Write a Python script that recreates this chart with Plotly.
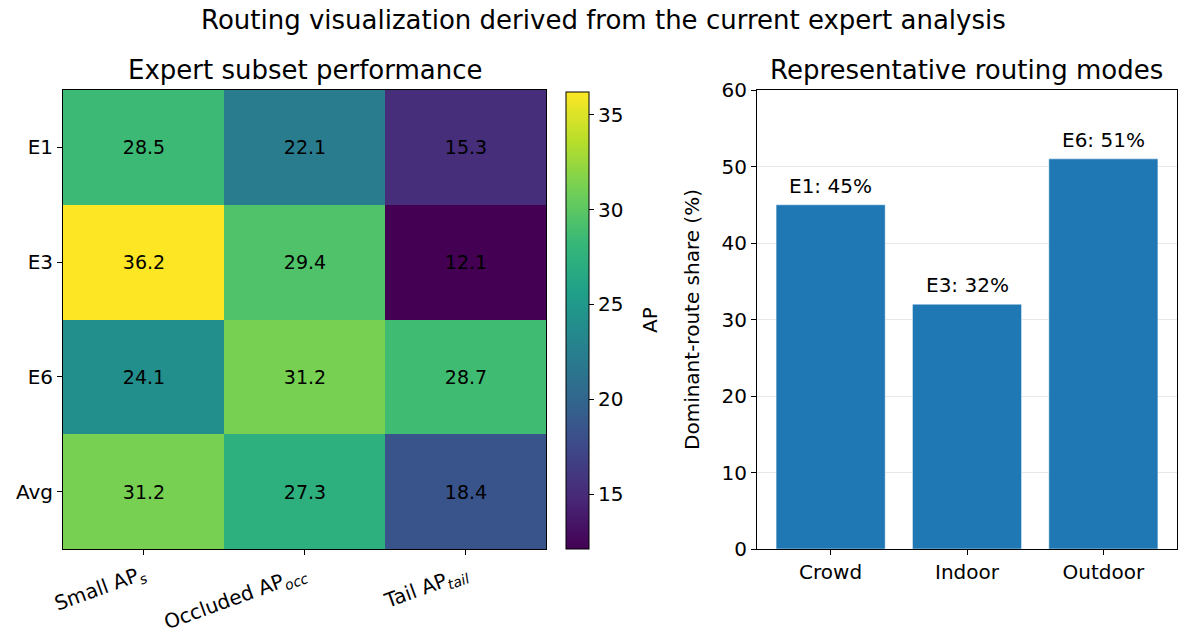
import plotly.graph_objects as go

# Heatmap data
experts = ["E1", "E3", "E6", "Avg"]
subsets = ["Small AP<sub><i>s</i></sub>", "Occluded AP<sub><i>occ</i></sub>", "Tail AP<sub><i>tail</i></sub>"]
ap_small = [28.5, 36.2, 24.1, 31.2]
ap_occluded = [22.1, 29.4, 31.2, 27.3]
ap_tail = [15.3, 12.1, 28.7, 18.4]

# Bar data
modes = ["Crowd", "Indoor", "Outdoor"]
dominant_expert = ["E1", "E3", "E6"]
route_share = [45, 32, 51]

z = [[ap_small[i], ap_occluded[i], ap_tail[i]] for i in range(len(experts))]
zmin = min(min(r) for r in z)
zmax = max(max(r) for r in z)

W, H = 1179, 631
def px(x):
    return x / W
def py(y):
    return 1 - y / H

font = "DejaVu Sans"
TICK = 20
fig = go.Figure()

fig.add_trace(go.Heatmap(
    z=z, x=subsets, y=experts,
    colorscale="Viridis", zmin=zmin, zmax=zmax,
    texttemplate="%{z:.1f}", textfont=dict(size=19, color="black", family=font),
    colorbar=dict(
        x=px(566), xanchor="left", xpad=0, ypad=0,
        y=py(549), yanchor="bottom", len=(549 - 92) / H, lenmode="fraction",
        thickness=23, thicknessmode="pixels",
        outlinecolor="black", outlinewidth=1,
        tickvals=[15, 20, 25, 30, 35], ticks="outside", ticklen=5, tickcolor="black",
        tickfont=dict(size=TICK, family=font, color="black"),
    ),
    xaxis="x", yaxis="y", hoverinfo="skip",
))

fig.add_trace(go.Bar(
    x=modes, y=route_share,
    marker=dict(color="#1f77b4", line=dict(color="rgba(255,255,255,0.6)", width=0.8)),
    width=0.8,
    xaxis="x2", yaxis="y2", hoverinfo="skip",
))

axis_common = dict(
    showline=True, linecolor="black", linewidth=1, mirror=True,
    ticks="outside", ticklen=5, tickcolor="black", automargin=False,
    tickfont=dict(size=TICK, family=font, color="black"),
)

annotations = [
    dict(text="Routing visualization derived from the current expert analysis",
         x=px(603), y=py(20), xref="paper", yref="paper", showarrow=False,
         xanchor="center", yanchor="middle",
         font=dict(size=26, family=font, color="black")),
    dict(text="Expert subset performance",
         x=px(305), y=py(70), xref="paper", yref="paper", showarrow=False,
         xanchor="center", yanchor="middle",
         font=dict(size=26, family=font, color="black")),
    dict(text="Representative routing modes",
         x=px(967), y=py(70), xref="paper", yref="paper", showarrow=False,
         xanchor="center", yanchor="middle",
         font=dict(size=26, family=font, color="black")),
    dict(text="AP", x=px(650), y=py(320), xref="paper", yref="paper", showarrow=False,
         xanchor="center", yanchor="middle", textangle=-90,
         font=dict(size=TICK, family=font, color="black")),
]
for m, e, v in zip(modes, dominant_expert, route_share):
    annotations.append(dict(
        text=f"{e}: {v}%", x=m, y=v, xref="x2", yref="y2", showarrow=False,
        xanchor="center", yanchor="bottom", yshift=5,
        font=dict(size=20, family=font, color="black")))

fig.update_layout(
    width=W, height=H,
    margin=dict(l=0, r=0, t=0, b=0, autoexpand=False),
    paper_bgcolor="white", plot_bgcolor="white",
    showlegend=False,
    font=dict(family=font, color="black"),
    xaxis=dict(domain=[px(63), px(546)], tickangle=-20, showgrid=False, anchor="y", **axis_common),
    yaxis=dict(domain=[py(549), py(90)], autorange="reversed", showgrid=False, anchor="x", **axis_common),
    xaxis2=dict(domain=[px(757), px(1177)], range=[-0.54, 2.54], showgrid=False, anchor="y2", **axis_common),
    yaxis2=dict(domain=[py(549), py(90)], range=[0, 60], dtick=10,
                showgrid=True, gridcolor="rgba(0,0,0,0.09)", gridwidth=1,
                title=dict(text="Dominant-route share (%)", standoff=16,
                           font=dict(size=TICK, family=font, color="black")),
                anchor="x2", **axis_common),
    annotations=annotations,
)

fig.write_html("out.html", config={"displayModeBar": False},
               post_script="document.body.style.margin='0px';")
